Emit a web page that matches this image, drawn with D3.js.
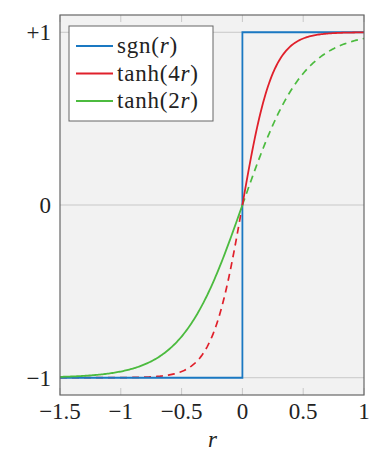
<!DOCTYPE html>
<html lang="en">
<head>
<meta charset="utf-8">
<title>sgn vs tanh</title>
<script src="https://d3js.org/d3.v7.min.js"></script>
<style>
  body { margin: 0; background: #fff; }
</style>
</head>
<body>
<div id="chart"></div>
<script>
// data
const xTicks = [-1.5, -1, -0.5, 0, 0.5, 1];
const xTickLabels = ["\u22121.5", "\u22121", "\u22120.5", "0", "0.5", "1"];
const yTicks = [-1, 0, 1];
const yTickLabels = ["\u22121", "0", "+1"];
const xDomain = [-1.5, 1];
const yDomain = [-1.1, 1.1];
const seriesNames = ["sgn", "tanh4", "tanh2"];
const legendLabels = [["sgn(", "r", ")"], ["tanh(4", "r", ")"], ["tanh(2", "r", ")"]];
const seriesColors = ["#1a78c2", "#e0202b", "#4cbb3f"];
// sample points along r
const rValues = d3.range(-1.5, 1.0001, 0.01);
const sgnPoints = [[-1.5, -1], [0, -1], [0, 1], [1, 1]];
const gains = [4, 2];

const width = 371, height = 460;
const margin = {left: 60, right: 7, top: 15, bottom: 65};
const fs = 23;
const font = "Liberation Serif";

const svg = d3.select("#chart").append("svg")
  .attr("width", width).attr("height", height)
  .attr("font-family", font);

const x = d3.scaleLinear().domain(xDomain).range([margin.left, width - margin.right]);
const y = d3.scaleLinear().domain(yDomain).range([height - margin.bottom, margin.top]);

// plot background
svg.append("rect")
  .attr("x", x(xDomain[0])).attr("y", y(yDomain[1]))
  .attr("width", x(xDomain[1]) - x(xDomain[0]))
  .attr("height", y(yDomain[0]) - y(yDomain[1]))
  .attr("fill", "#f2f2f2");

// horizontal grid
svg.selectAll(".grid").data(yTicks).enter().append("line")
  .attr("x1", x(xDomain[0])).attr("x2", x(xDomain[1]))
  .attr("y1", d => y(d)).attr("y2", d => y(d))
  .attr("stroke", "#c8c8c8").attr("stroke-width", 1);

// inner ticks on top and bottom
xTicks.forEach(t => {
  [[y(yDomain[0]), -1], [y(yDomain[1]), 1]].forEach(([yy, dir]) => {
    svg.append("line")
      .attr("x1", x(t)).attr("x2", x(t))
      .attr("y1", yy).attr("y2", yy + dir * 7)
      .attr("stroke", "#c8c8c8");
  });
});

const line = d3.line().x(d => x(d[0])).y(d => y(d[1]));
const clipId = "plotclip";
svg.append("clipPath").attr("id", clipId).append("rect")
  .attr("x", x(xDomain[0])).attr("y", y(yDomain[1]))
  .attr("width", x(xDomain[1]) - x(xDomain[0]))
  .attr("height", y(yDomain[0]) - y(yDomain[1]));
const g = svg.append("g").attr("clip-path", `url(#${clipId})`);

// tanh curves: red solid for r>0, green solid for r<0
const neg = rValues.filter(r => r <= 0.0001);
const pos = rValues.filter(r => r >= -0.0001);
const tanh4 = gains[0], tanh2 = gains[1];

g.append("path").datum(pos.map(r => [r, Math.tanh(tanh2 * r)]))
  .attr("d", line).attr("fill", "none").attr("stroke", seriesColors[2])
  .attr("stroke-width", 1.7).attr("stroke-dasharray", "7,5");
g.append("path").datum(neg.map(r => [r, Math.tanh(tanh4 * r)]))
  .attr("d", line).attr("fill", "none").attr("stroke", seriesColors[1])
  .attr("stroke-width", 1.7).attr("stroke-dasharray", "7,5");
g.append("path").datum(sgnPoints)
  .attr("d", line).attr("fill", "none").attr("stroke", seriesColors[0])
  .attr("stroke-width", 1.8);
g.append("path").datum(neg.map(r => [r, Math.tanh(tanh2 * r)]))
  .attr("d", line).attr("fill", "none").attr("stroke", seriesColors[2])
  .attr("stroke-width", 1.8);
g.append("path").datum(pos.map(r => [r, Math.tanh(tanh4 * r)]))
  .attr("d", line).attr("fill", "none").attr("stroke", seriesColors[1])
  .attr("stroke-width", 1.8);

// frame
svg.append("rect")
  .attr("x", x(xDomain[0])).attr("y", y(yDomain[1]))
  .attr("width", x(xDomain[1]) - x(xDomain[0]))
  .attr("height", y(yDomain[0]) - y(yDomain[1]))
  .attr("fill", "none").attr("stroke", "#666").attr("stroke-width", 1.2);

// tick labels
svg.selectAll(".xl").data(xTicks).enter().append("text")
  .attr("x", d => x(d)).attr("y", 419)
  .attr("text-anchor", "middle").attr("font-size", fs).attr("fill", "#222")
  .text((d, i) => xTickLabels[i]);
svg.selectAll(".yl").data(yTicks).enter().append("text")
  .attr("x", 51).attr("y", d => y(d) + 8)
  .attr("text-anchor", "end").attr("font-size", fs).attr("fill", "#222")
  .text((d, i) => yTickLabels[i]);

// axis label
svg.append("text").attr("x", x(0) - 30).attr("y", 447)
  .attr("text-anchor", "middle").attr("font-size", fs)
  .attr("font-style", "italic").attr("fill", "#222").text("r");

// legend
const lg = svg.append("g");
lg.append("rect").attr("x", 69).attr("y", 26).attr("width", 144).attr("height", 95)
  .attr("fill", "#fff").attr("stroke", "#666").attr("stroke-width", 1);
seriesNames.forEach((s, i) => {
  const yy = 46 + i * 27.5;
  lg.append("line").attr("x1", 76).attr("x2", 113).attr("y1", yy).attr("y2", yy)
    .attr("stroke", seriesColors[i]).attr("stroke-width", 1.8);
  const t = lg.append("text").attr("x", 117).attr("y", yy + 7)
    .attr("font-size", fs).attr("fill", "#222").attr("letter-spacing", 0.8);
  t.append("tspan").text(legendLabels[i][0]);
  t.append("tspan").attr("font-style", "italic").text(legendLabels[i][1]);
  t.append("tspan").text(legendLabels[i][2]);
});
</script>
</body>
</html>
